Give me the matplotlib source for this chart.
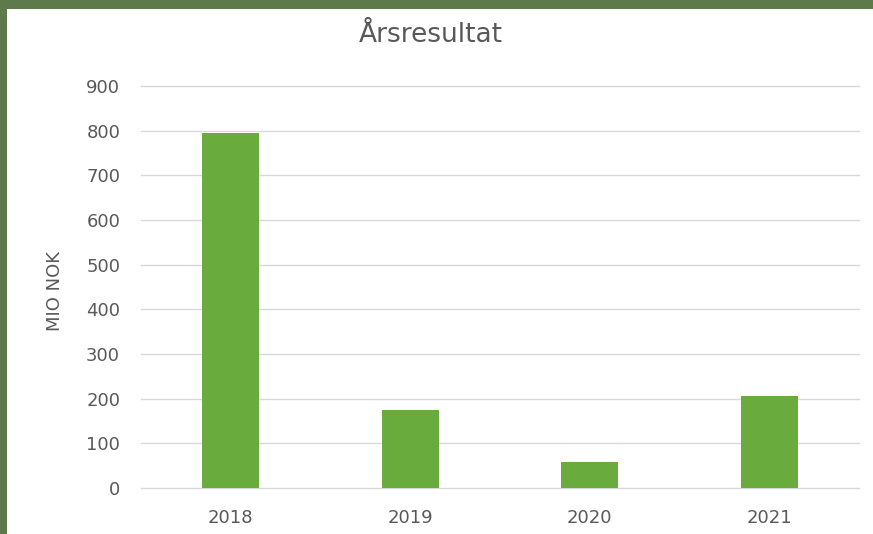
import matplotlib.pyplot as plt
from matplotlib.patches import Rectangle

# Annual result, million NOK
years = ['2018', '2019', '2020', '2021']
result = [795, 174, 58, 206]
yticks = [0, 100, 200, 300, 400, 500, 600, 700, 800, 900]

text_col = '#595959'
bar_col = '#6aab3e'
frame_col = '#5e7a4c'

fig = plt.figure(figsize=(8.73, 5.34), dpi=100)
fig.patch.set_facecolor(frame_col)
# white chart area inside the green frame (frame only at top and left)
fig.patches.append(Rectangle((7 / 873, 0), 1, 1 - 9 / 534, transform=fig.transFigure,
                             facecolor='white', edgecolor='none', zorder=-5))

ax = fig.add_axes([0.1615, 0.0861, 0.8225, 0.753])
ax.set_zorder(2)
ax.set_facecolor('none')
ax.bar(range(len(years)), result, width=0.32, color=bar_col, zorder=3)

ax.set_xlim(-0.5, 3.5)
ax.set_ylim(0, 900)
ax.set_yticks(yticks)
ax.set_xticks(range(len(years)))
ax.set_xticklabels(years)
ax.grid(axis='y', color='#d9d9d9', linewidth=1, zorder=0)
for line in ax.get_ygridlines():
    line.set_clip_on(False)
for s in ax.spines.values():
    s.set_visible(False)
ax.tick_params(axis='both', length=0, colors=text_col, labelsize=13)
ax.tick_params(axis='y', pad=15)
ax.tick_params(axis='x', pad=15)

ax.set_ylabel('MIO NOK', color=text_col, fontsize=13)
ax.yaxis.set_label_coords(-0.107, 0.49)
fig.text(0.494, 0.935, 'Årsresultat', ha='center', va='center', color=text_col,
         fontsize=19, zorder=3)

fig.savefig('out.png', dpi=100, facecolor=fig.get_facecolor())
